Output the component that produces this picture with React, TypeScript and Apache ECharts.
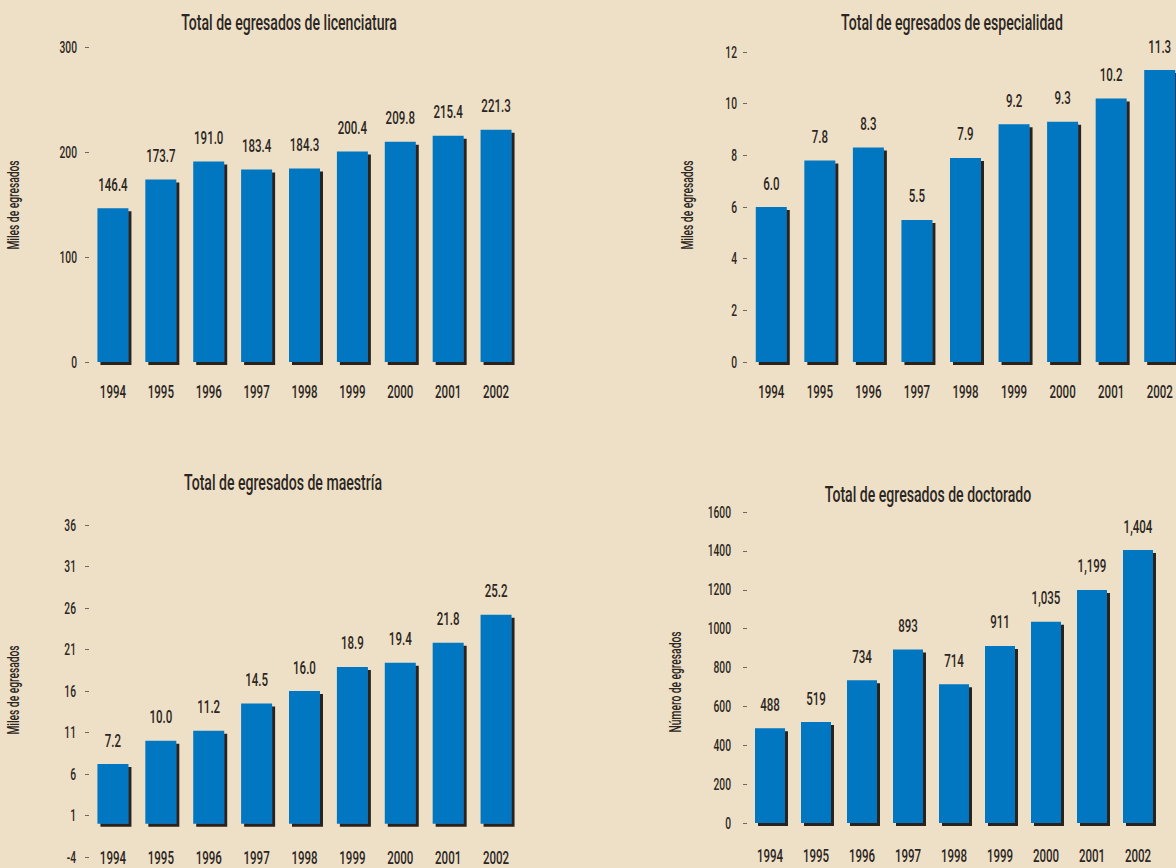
import React, { useEffect, useRef } from "react";
import * as echarts from "echarts";

const years = ["1994", "1995", "1996", "1997", "1998", "1999", "2000", "2001", "2002"];
const licenciatura = [146.4, 173.7, 191.0, 183.4, 184.3, 200.4, 209.8, 215.4, 221.3];
const especialidad = [6.0, 7.8, 8.3, 5.5, 7.9, 9.2, 9.3, 10.2, 11.3];
const maestria = [7.2, 10.0, 11.2, 14.5, 16.0, 18.9, 19.4, 21.8, 25.2];
const doctorado = [488, 519, 734, 893, 714, 911, 1035, 1199, 1404];

const licTicks = [0, 100, 200, 300];
const espTicks = [0, 2, 4, 6, 8, 10, 12];
const maeTicks = [-4, 1, 6, 11, 16, 21, 26, 31, 36];
const docTicks = [0, 200, 400, 600, 800, 1000, 1200, 1400, 1600];

const titles = [
  "Total de egresados de licenciatura",
  "Total de egresados de especialidad",
  "Total de egresados de maestría",
  "Total de egresados de doctorado",
];
const axisNames = ["Miles de egresados", "Miles de egresados", "Miles de egresados", "Número de egresados"];

const FONT = "Roboto, 'Liberation Sans', sans-serif";
const WEIGHT = 500;
const SQ = 0.64; // horizontal condensing of all texts
const BG = "#eee0c6";
const BAR = "#0077c0";
const SHADOW = "#29231f";
const TEXT = "#2b2623";
const TICK = "#6e6760";

const fmt1 = (v: number) => v.toFixed(1);
const fmtInt = (v: number) => v.toLocaleString("en-US");

export default function App() {
  const ref = useRef<HTMLDivElement>(null);
  useEffect(() => {
    if (!ref.current) return;
    const chart = echarts.init(ref.current, undefined, { renderer: "svg" });

    const panels = [
      { grid: { left: 89, top: 47, width: 431, height: 315 }, values: licenciatura, ticks: licTicks, fmt: fmt1, bw: 31, title: [289, 11], name: [13, 205], labelMargin: 12, xMargin: 20 },
      { grid: { left: 747, top: 52, width: 437, height: 310 }, values: especialidad, ticks: espTicks, fmt: fmt1, bw: 31, title: [952, 11], name: [687, 205], labelMargin: 10, xMargin: 20 },
      { grid: { left: 89, top: 525, width: 431, height: 332 }, values: maestria, ticks: maeTicks, fmt: fmt1, bw: 31, title: [283, 471], name: [13, 690], labelMargin: 13, xMargin: 24 },
      { grid: { left: 747, top: 512, width: 414, height: 311 }, values: doctorado, ticks: docTicks, fmt: fmtInt, bw: 30, title: [928, 483], name: [675, 682], labelMargin: 16, xMargin: 23 },
    ];

    // x axis sits on the value 0 of its panel (maestría starts below zero)
    const zeroOffset = (p: any) => {
      const lo = p.ticks[0];
      const hi = p.ticks[p.ticks.length - 1];
      if (lo >= 0) return 0;
      return -Math.round((-lo / (hi - lo)) * p.grid.height);
    };

    const option: any = {
      animation: false,
      backgroundColor: BG,
      textStyle: { fontFamily: FONT, fontWeight: WEIGHT },
      title: panels.map((p, i) => ({
        text: titles[i],
        left: p.title[0],
        top: p.title[1],
        textAlign: "center",
        padding: 0,
        textStyle: { fontFamily: FONT, fontSize: 22, fontWeight: WEIGHT, color: TEXT },
      })),
      grid: panels.map((p) => ({ ...p.grid, containLabel: false, outerBoundsMode: "none" })),
      xAxis: panels.map((p, i) => ({
        type: "category",
        gridIndex: i,
        data: years,
        position: "bottom",
        offset: zeroOffset(p),
        axisLine: { show: false, onZero: false },
        axisTick: { show: false },
        axisLabel: { interval: 0, fontFamily: FONT, fontWeight: WEIGHT, fontSize: 18, color: TEXT, margin: p.xMargin },
      })),
      yAxis: panels.map((p, i) => ({
        type: "value",
        gridIndex: i,
        min: p.ticks[0],
        max: p.ticks[p.ticks.length - 1],
        interval: p.ticks[1] - p.ticks[0],
        axisLine: { show: false },
        axisTick: { show: true, length: 4, lineStyle: { color: TICK, width: 1 } },
        splitLine: { show: false },
        axisLabel: {
          fontFamily: FONT,
          fontWeight: WEIGHT,
          fontSize: 16,
          color: TEXT,
          margin: p.labelMargin,
          formatter: (v: number) => String(v),
        },
      })),
      series: panels.map((p, i) => ({
        type: "bar",
        xAxisIndex: i,
        yAxisIndex: i,
        data: p.values,
        barWidth: p.bw,
        itemStyle: {
          color: BAR,
          shadowColor: SHADOW,
          shadowBlur: 0,
          shadowOffsetX: 3,
          shadowOffsetY: 3,
        },
        label: {
          show: true,
          position: "top",
          distance: 15,
          fontFamily: FONT,
          fontWeight: WEIGHT,
          fontSize: 18,
          color: TEXT,
          formatter: (d: any) => p.fmt(d.value),
        },
      })),
      graphic: panels.map((p, i) => ({
        type: "text",
        x: p.name[0],
        y: p.name[1],
        rotation: Math.PI / 2,
        style: {
          text: axisNames[i],
          font: `${WEIGHT} 16px ${FONT}`,
          fill: TEXT,
          align: "center",
          verticalAlign: "middle",
        },
      })),
    };

    const squeeze = () => {
      const root = ref.current;
      if (!root) return;
      root.querySelectorAll("text").forEach((t: any) => {
        t.removeAttribute("textLength");
        t.removeAttribute("lengthAdjust");
        const len = t.getComputedTextLength ? t.getComputedTextLength() : 0;
        if (len > 0) {
          t.setAttribute("textLength", (len * SQ).toFixed(2));
          t.setAttribute("lengthAdjust", "spacingAndGlyphs");
        }
      });
    };

    chart.on("finished", squeeze);
    chart.setOption(option);
    squeeze();
    const t1 = setTimeout(squeeze, 30);
    const t2 = setTimeout(squeeze, 300);
    if ((document as any).fonts && (document as any).fonts.ready) {
      (document as any).fonts.ready.then(squeeze);
    }
    return () => {
      clearTimeout(t1);
      clearTimeout(t2);
      chart.dispose();
    };
  }, []);
  return (
    <div
      ref={ref}
      style={{ position: "fixed", left: 0, top: 0, width: 1176, height: 868, background: BG }}
    />
  );
}
